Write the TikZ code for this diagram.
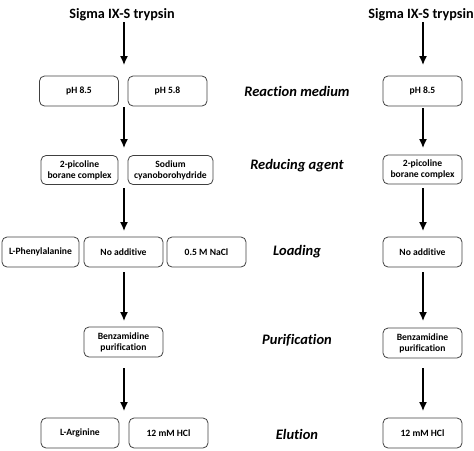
\documentclass[tikz,border=0pt]{standalone}
\usepackage{fontspec}
\setmainfont{Carlito}[Ligatures={NoCommon}]
\usetikzlibrary{arrows.meta}
\begin{document}
\begin{tikzpicture}[x=1pt,y=-1pt,
  box/.style={draw=black!75,line width=0.8pt,rounded corners=5pt,minimum height=30pt,minimum width=79pt,inner sep=1pt,align=center,font=\bfseries\fontsize{9.6}{11}\selectfont},
  ttl/.style={font=\bfseries\fontsize{14.2}{16}\selectfont},
  lbl/.style={font=\bfseries\itshape\fontsize{14.5}{16}\selectfont},
  arr/.style={line width=1.4pt,-{Latex[length=9pt,width=8pt]}}]
\useasboundingbox (0,0) rectangle (474,450);
% titles
\node[ttl] (t1) at (122,15) {Sigma IX-S trypsin};
\node[ttl] (t2) at (421,15) {Sigma IX-S trypsin};
% row 1
\node[box] (a1) at (79,91) {pH 8.5};
\node[box] (a2) at (167.5,91) {pH 5.8};
\node[box] (a3) at (422.5,91) {pH 8.5};
% row 2
\node[box,minimum width=77pt,minimum height=29pt] (b1) at (79.5,170) {2-picoline\\borane complex};
\node[box,minimum width=85pt,minimum height=29pt] (b2) at (170.5,170) {Sodium\\cyanoborohydride};
\node[box,minimum height=29pt] (b3) at (422.5,169.5) {2-picoline\\borane complex};
% row 3
\node[box,minimum width=77pt] (c1) at (40.5,252) {L-Phenylalanine};
\node[box] (c2) at (123.5,252) {No additive};
\node[box] (c3) at (206.5,252) {0.5 M NaCl};
\node[box] (c4) at (422.5,252) {No additive};
% row 4
\node[box] (d1) at (123.5,342) {Benzamidine\\purification};
\node[box] (d2) at (422.5,343) {Benzamidine\\purification};
% row 5
\node[box,minimum width=78pt] (e1) at (80,433) {L-Arginine};
\node[box] (e2) at (168.5,433) {12 mM HCl};
\node[box] (e3) at (422.5,433) {12 mM HCl};
% labels
\node[lbl] (l1) at (297,91) {Reaction medium};
\node[lbl] (l2) at (297,166) {Reducing agent};
\node[lbl] (l3) at (297,252) {Loading};
\node[lbl] (l4) at (297,340) {Purification};
\node[lbl] (l5) at (297,434) {Elution};
% connector end points (left column)
\coordinate (p0s) at (124,22);  \coordinate (p0e) at (124,65);
\coordinate (p1s) at (124,107); \coordinate (p1e) at (124,148);
\coordinate (p2s) at (124,188); \coordinate (p2e) at (124,231);
\coordinate (p3s) at (124,272); \coordinate (p3e) at (124,321);
\coordinate (p4s) at (124,368); \coordinate (p4e) at (124,411);
% right column
\coordinate (q0s) at (423,22);  \coordinate (q0e) at (423,65);
\coordinate (q1s) at (423,108); \coordinate (q1e) at (423,148);
\coordinate (q2s) at (423,188); \coordinate (q2e) at (423,231);
\coordinate (q3s) at (423,272); \coordinate (q3e) at (423,321);
\coordinate (q4s) at (423,368); \coordinate (q4e) at (423,411);
\foreach \i in {0,...,4}{
  \draw[arr] (p\i s) -- (p\i e);
  \draw[arr] (q\i s) -- (q\i e);
}
\end{tikzpicture}
\end{document}
